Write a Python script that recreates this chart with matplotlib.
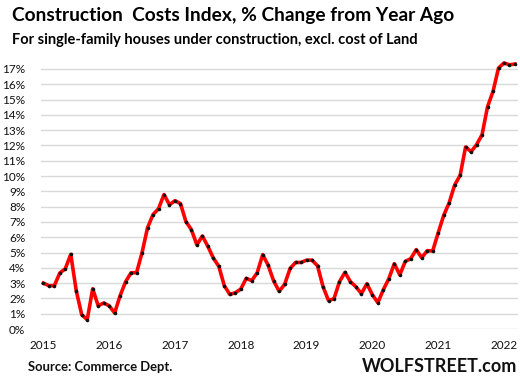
import matplotlib
matplotlib.use("Agg")
import matplotlib.pyplot as plt
import numpy as np

plt.rcParams['font.family'] = ['Lato', 'DejaVu Sans']

years = ["2015", "2016", "2017", "2018", "2019", "2020", "2021", "2022"]
values = [
    3.00, 2.83, 2.83, 3.66, 3.94, 4.88, 2.50, 0.93, 0.61, 2.63, 1.52, 1.70,   # 2015
    1.52, 1.05, 2.18, 3.09, 3.68, 3.68, 4.99, 6.62, 7.48, 7.86, 8.79, 8.12,   # 2016
    8.39, 8.20, 7.02, 6.49, 5.50, 6.08, 5.40, 4.64, 4.09, 2.83, 2.26, 2.37,   # 2017
    2.61, 3.31, 3.16, 3.68, 4.86, 4.16, 3.14, 2.46, 2.92, 3.96, 4.35, 4.35,   # 2018
    4.50, 4.50, 4.13, 2.77, 1.86, 1.98, 3.09, 3.70, 3.09, 2.76, 2.31, 2.96,   # 2019
    2.24, 1.72, 2.57, 3.29, 4.27, 3.54, 4.42, 4.60, 5.19, 4.66, 5.12, 5.10,   # 2020
    6.29, 7.42, 8.25, 9.41, 10.04, 11.90, 11.59, 12.05, 12.70, 14.53, 15.53, 17.06,  # 2021
    17.39, 17.27, 17.32,  # 2022
]
yticks = list(range(0, 18))
ytick_labels = [f"{v}%" for v in yticks]

W, H = 520, 382
fig = plt.figure(figsize=(W / 100, H / 100), dpi=100)
ax = fig.add_axes([40.6 / W, 53 / H, (517.7 - 40.6) / W, (329 - 56.7) / H])

x = np.arange(len(values))
ax.plot(x, values, color="#ff0000", linewidth=2.6, zorder=3,
        marker="o", markersize=2.6, markerfacecolor="#111111",
        markeredgecolor="#111111", markeredgewidth=0)

ax.set_xlim(-0.5, len(values) - 0.5)
ax.set_ylim(0, 17.8)
ax.set_yticks(yticks)
ax.set_yticklabels(ytick_labels, fontsize=8.5, color="#111111")
ax.set_xticks([12 * i for i in range(len(years))])
ax.set_xticklabels(years, fontsize=8.5, color="#111111")
ax.tick_params(axis="both", length=0)
ax.tick_params(axis="y", pad=11)
ax.tick_params(axis="x", pad=8)
ax.grid(axis="y", color="#d9d9d9", linewidth=1.0)
ax.set_axisbelow(True)
for s in ax.spines.values():
    s.set_visible(False)

fig.text(12 / W, 1 - 15 / H, "Construction  Costs Index, % Change from Year Ago",
         fontsize=13.8, fontweight="bold", ha="left", va="center", color="#000000")
fig.text(12 / W, 1 - 40 / H, "For single-family houses under construction, excl. cost of Land",
         fontsize=10.5, fontweight="bold", ha="left", va="center", color="#000000")
fig.text(28 / W, 1 - 367 / H, "Source: Commerce Dept.",
         fontsize=9.4, fontweight="bold", ha="left", va="center", color="#111111")
fig.text(517 / W, 1 - 366 / H, "WOLFSTREET.com",
         fontsize=13, fontweight="bold", ha="right", va="center", color="#111111")

fig.savefig("out.png", dpi=100, facecolor="white")
